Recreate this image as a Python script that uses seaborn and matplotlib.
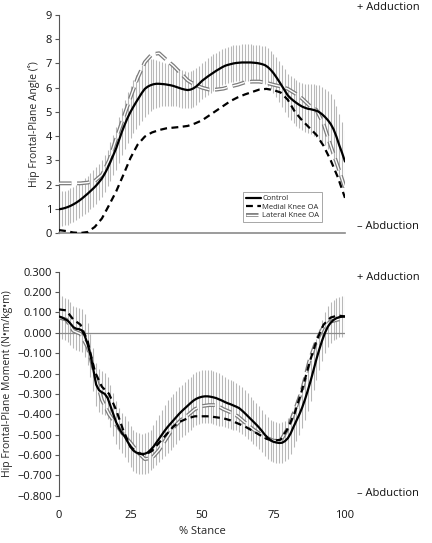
import pandas as pd
import matplotlib
matplotlib.use('Agg')
import matplotlib.pyplot as plt
import seaborn as sns

# % stance: control group every 1 %, knee OA groups every 2.5 %
stance = list(range(101))
stance_oa = [i * 2.5 for i in range(41)]

# Hip frontal-plane angle (deg)
angle_control = [0.98, 1.00, 1.03, 1.07, 1.12, 1.18, 1.25, 1.33, 1.42, 1.52,
                 1.62, 1.73, 1.84, 1.96, 2.10, 2.25, 2.45, 2.68, 2.94, 3.22,
                 3.50, 3.84, 4.18, 4.48, 4.76, 5.00, 5.21, 5.41, 5.60, 5.79,
                 5.95, 6.04, 6.10, 6.14, 6.16, 6.16, 6.15, 6.14, 6.12, 6.10,
                 6.07, 6.03, 5.99, 5.95, 5.92, 5.90, 5.92, 5.97, 6.05, 6.16,
                 6.28, 6.37, 6.46, 6.54, 6.62, 6.70, 6.77, 6.84, 6.90, 6.94,
                 6.97, 7.00, 7.02, 7.03, 7.04, 7.04, 7.04, 7.04, 7.03, 7.02,
                 7.00, 6.97, 6.93, 6.85, 6.74, 6.60, 6.43, 6.25, 6.06, 5.87,
                 5.68, 5.56, 5.46, 5.37, 5.29, 5.22, 5.17, 5.13, 5.11, 5.08,
                 5.05, 4.99, 4.90, 4.79, 4.66, 4.50, 4.28, 3.98, 3.62, 3.30, 2.95]
angle_control_sd = [0.72, 0.72, 0.72, 0.72, 0.72, 0.72, 0.72, 0.73, 0.73, 0.74,
                    0.74, 0.75, 0.75, 0.75, 0.75, 0.75, 0.75, 0.76, 0.80, 0.84,
                    0.88, 0.93, 0.98, 1.02, 1.05, 1.08, 1.10, 1.12, 1.14, 1.15,
                    1.15, 1.12, 1.08, 1.03, 0.99, 0.95, 0.92, 0.89, 0.86, 0.84,
                    0.82, 0.80, 0.79, 0.78, 0.77, 0.76, 0.75, 0.75, 0.75, 0.75,
                    0.75, 0.75, 0.75, 0.75, 0.75, 0.75, 0.75, 0.75, 0.75, 0.75,
                    0.75, 0.75, 0.75, 0.75, 0.75, 0.75, 0.75, 0.75, 0.75, 0.75,
                    0.75, 0.76, 0.77, 0.78, 0.79, 0.80, 0.82, 0.84, 0.86, 0.88,
                    0.90, 0.91, 0.92, 0.94, 0.95, 0.97, 0.99, 1.01, 1.04, 1.06,
                    1.08, 1.11, 1.14, 1.17, 1.19, 1.22, 1.24, 1.27, 1.28, 1.29, 1.30]
angle_medial = [0.12, 0.08, 0.02, 0.00, 0.04, 0.25, 0.60, 1.15, 1.72, 2.40,
                3.10, 3.65, 3.98, 4.15, 4.25, 4.32, 4.35, 4.38, 4.42, 4.52,
                4.65, 4.85, 5.05, 5.25, 5.45, 5.60, 5.72, 5.82, 5.92, 5.95,
                5.90, 5.80, 5.50, 5.00, 4.65, 4.35, 4.05, 3.60, 3.00, 2.30, 1.45]
angle_lateral = [2.05, 2.05, 2.05, 2.05, 2.08, 2.15, 2.40, 3.00, 3.90, 4.75,
                 5.60, 6.40, 7.05, 7.38, 7.42, 7.15, 6.90, 6.60, 6.30, 6.12,
                 6.00, 5.92, 5.92, 5.96, 6.05, 6.12, 6.22, 6.25, 6.25, 6.20,
                 6.12, 6.05, 5.95, 5.77, 5.55, 5.27, 5.08, 4.50, 3.60, 2.75, 1.85]

# Hip frontal-plane moment (N*m/kg*m)
moment_control = [0.080, 0.075, 0.068, 0.060, 0.045, 0.028, 0.020, 0.018, 0.012, -0.015,
                  -0.055, -0.110, -0.180, -0.255, -0.282, -0.292, -0.300, -0.320, -0.360, -0.400,
                  -0.440, -0.470, -0.492, -0.510, -0.535, -0.560, -0.578, -0.588, -0.593, -0.595,
                  -0.594, -0.588, -0.575, -0.560, -0.540, -0.520, -0.500, -0.480, -0.462, -0.446,
                  -0.430, -0.414, -0.398, -0.384, -0.371, -0.358, -0.345, -0.333, -0.324, -0.318,
                  -0.314, -0.312, -0.312, -0.314, -0.317, -0.321, -0.327, -0.333, -0.340, -0.346,
                  -0.351, -0.357, -0.363, -0.370, -0.382, -0.395, -0.409, -0.423, -0.437, -0.451,
                  -0.466, -0.483, -0.501, -0.516, -0.528, -0.535, -0.539, -0.541, -0.540, -0.532,
                  -0.518, -0.494, -0.462, -0.432, -0.402, -0.368, -0.328, -0.283, -0.235, -0.183,
                  -0.130, -0.082, -0.038, 0.000, 0.030, 0.050, 0.063, 0.072, 0.077, 0.079, 0.080]
moment_control_sd = [0.105, 0.105, 0.105, 0.105, 0.105, 0.105, 0.105, 0.105, 0.105, 0.105,
                     0.105, 0.105, 0.105, 0.105, 0.105, 0.105, 0.105, 0.105, 0.105, 0.105,
                     0.105, 0.100, 0.100, 0.100, 0.100, 0.100, 0.100, 0.100, 0.100, 0.100,
                     0.100, 0.100, 0.100, 0.105, 0.110, 0.115, 0.120, 0.125, 0.130, 0.130,
                     0.130, 0.130, 0.130, 0.130, 0.130, 0.130, 0.130, 0.130, 0.130, 0.130,
                     0.130, 0.130, 0.130, 0.130, 0.130, 0.130, 0.130, 0.127, 0.124, 0.120,
                     0.120, 0.118, 0.116, 0.115, 0.114, 0.112, 0.111, 0.110, 0.108, 0.106,
                     0.105, 0.104, 0.103, 0.102, 0.101, 0.100, 0.100, 0.100, 0.100, 0.100,
                     0.100, 0.100, 0.100, 0.100, 0.100, 0.100, 0.100, 0.100, 0.100, 0.100,
                     0.100, 0.100, 0.100, 0.100, 0.100, 0.100, 0.100, 0.100, 0.100, 0.100, 0.100]
moment_medial = [0.115, 0.110, 0.065, 0.040, -0.040, -0.190, -0.265, -0.300, -0.380, -0.480,
                 -0.560, -0.590, -0.600, -0.580, -0.540, -0.500, -0.460, -0.435, -0.420, -0.410,
                 -0.410, -0.410, -0.415, -0.420, -0.430, -0.445, -0.460, -0.480, -0.500, -0.520,
                 -0.530, -0.525, -0.470, -0.390, -0.280, -0.150, -0.040, 0.040, 0.075, 0.085, 0.080]
moment_lateral = [0.075, 0.065, 0.010, -0.005, -0.070, -0.200, -0.330, -0.400, -0.450, -0.500,
                  -0.540, -0.585, -0.620, -0.615, -0.575, -0.520, -0.465, -0.430, -0.405, -0.375,
                  -0.360, -0.355, -0.355, -0.375, -0.390, -0.410, -0.440, -0.470, -0.495, -0.515,
                  -0.530, -0.530, -0.470, -0.380, -0.280, -0.140, -0.040, 0.030, 0.055, 0.065, 0.070]

angle_ticks = [0, 1, 2, 3, 4, 5, 6, 7, 8, 9]
moment_ticks = [0.3, 0.2, 0.1, 0.0, -0.1, -0.2, -0.3, -0.4, -0.5, -0.6, -0.7, -0.8]
x_ticks = [0, 25, 50, 75, 100]

sns.set_style('white')
plt.rcParams['font.family'] = ['Open Sans', 'DejaVu Sans']

fig = plt.figure(figsize=(4.32, 5.43), dpi=100)
ax1 = fig.add_axes([0.1366, 0.5709, 0.662, 0.4015])
ax2 = fig.add_axes([0.1366, 0.0871, 0.662, 0.4125])

spine_col = '#555555'
bar_col = '#b8b8b8'
lat_on, lat_off = 9.0, 4.0   # dash pattern in points for the outlined lateral line


def draw_panel(ax, mean, sd, medial, lateral):
    ctrl = pd.DataFrame({'stance': stance, 'control': mean, 'sd': sd})
    oa = pd.DataFrame({'stance': stance_oa, 'medial': medial, 'lateral': lateral})
    ax.vlines(ctrl['stance'], ctrl['control'] - ctrl['sd'], ctrl['control'] + ctrl['sd'],
              color=bar_col, lw=0.8, zorder=1)
    # lateral: outlined dashes (gray outer, white core) with the same absolute pattern
    for lw, col in [(2.8, '#7c7c7c'), (1.0, 'white')]:
        sns.lineplot(data=oa, x='stance', y='lateral', ax=ax, color=col, lw=lw,
                     linestyle=(0, (lat_on / lw, lat_off / lw)), zorder=3)
    sns.lineplot(data=oa, x='stance', y='medial', ax=ax, color='black', lw=1.6,
                 linestyle=(0, (3.1, 2.0)), zorder=4)
    sns.lineplot(data=ctrl, x='stance', y='control', ax=ax, color='black', lw=1.6,
                 zorder=5)
    ax.set_xlim(0, 100)
    ax.set_xlabel('')
    for s in ['top', 'right']:
        ax.spines[s].set_visible(False)
    ax.spines['left'].set_color(spine_col)
    ax.spines['left'].set_linewidth(0.8)
    ax.tick_params(axis='y', which='both', left=True, length=3, width=0.8,
                   color=spine_col, labelsize=8, pad=2, labelcolor='#111111')


# top panel: angle
draw_panel(ax1, angle_control, angle_control_sd, angle_medial, angle_lateral)
ax1.set_ylim(0, 9)
ax1.set_yticks(angle_ticks)
ax1.set_xticks([])
ax1.spines['bottom'].set_color('#8a8a8a')
ax1.spines['bottom'].set_linewidth(1.2)
ax1.set_ylabel('Hip Frontal-Plane Angle (˚)', fontsize=7.5, labelpad=4)
ln = ax1.get_lines()
leg = ax1.legend([ln[3], ln[2], (ln[0], ln[1])],
                 ['Control', 'Medial Knee OA', 'Lateral Knee OA'],
                 loc='lower left', bbox_to_anchor=(0.643, 0.05), fontsize=5.5,
                 frameon=True, fancybox=False, framealpha=1, edgecolor='#999999',
                 handlelength=2.0, handletextpad=0.2, labelspacing=0.15,
                 borderpad=0.35, borderaxespad=0)
leg.get_frame().set_linewidth(0.6)

# bottom panel: moment
draw_panel(ax2, moment_control, moment_control_sd, moment_medial, moment_lateral)
ax2.set_ylim(-0.8, 0.3)
ax2.set_yticks(moment_ticks)
ax2.set_yticklabels([f'{v:.3f}'.replace('-', '\u2212') for v in moment_ticks])
ax2.spines['bottom'].set_visible(False)
ax2.axhline(0, color='#8a8a8a', lw=0.9, zorder=2)
ax2.set_xticks(x_ticks)
ax2.tick_params(axis='x', length=0, labelsize=8, pad=10, labelcolor='#111111')
ax2.set_xlabel('% Stance', fontsize=8, labelpad=4)
ax2.set_ylabel('Hip Frontal-Plane Moment (N\u2022m/kg\u2022m)', fontsize=7.5, labelpad=3)

# direction annotations
txt = dict(fontsize=8, color='#111111', ha='left', va='center')
fig.text(357 / 432, 1 - 7 / 543, '+ Adduction', **txt)
fig.text(357 / 432, 1 - 227 / 543, '\u2013 Abduction', **txt)
fig.text(357 / 432, 1 - 277 / 543, '+ Adduction', **txt)
fig.text(357 / 432, 1 - 494 / 543, '\u2013 Abduction', **txt)

fig.savefig('out.png', dpi=100)
